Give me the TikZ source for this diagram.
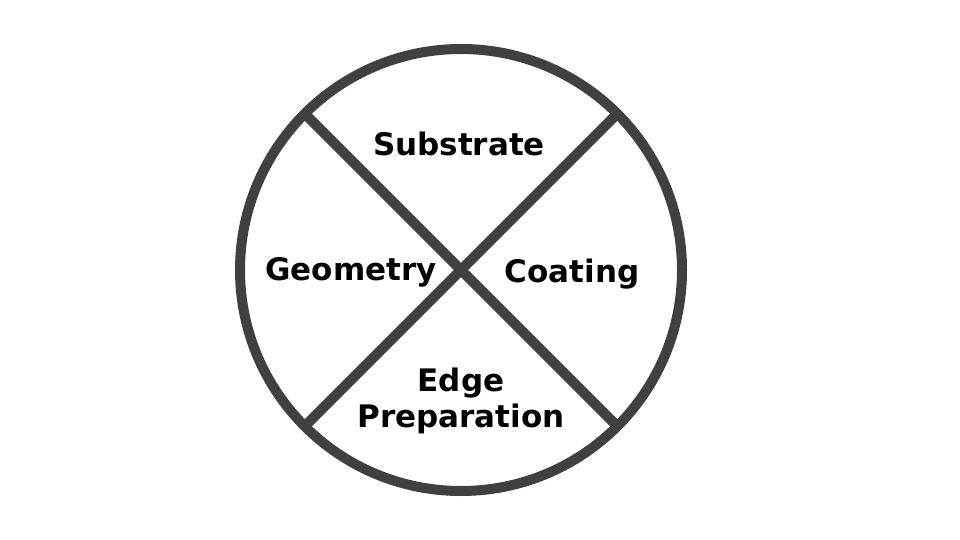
\documentclass[tikz,border=0pt]{standalone}
\usepackage{fontspec}
\setmainfont{DejaVu Sans}
\definecolor{ringgray}{HTML}{404040}
\tikzset{
  sector/.style={font=\fontsize{31}{36}\selectfont\bfseries, align=center, text=black}
}
\begin{document}
\begin{tikzpicture}[x=1pt,y=-1pt]
    \useasboundingbox (0,0) rectangle (960,540);
    \coordinate (O) at (461,270) ;

  \draw[line width=10pt, ringgray] (O) circle (221);
  \draw[line width=10pt, ringgray] (O) +(135:221) coordinate (NW) -- +(-45:221) coordinate (SE);
  \draw[line width=10pt, ringgray] (O) +(45:221) coordinate (NE) -- +(-135:221) coordinate (SW);

    \node[sector] (sub) at (459,144) {Substrate};
    \node[sector] (geo) at (351,272) {Geometry};
    \node[sector] (coat) at (572,274) {Coating};
    \node[sector] (edge) at (461,401) {Edge\\Preparation};

\end{tikzpicture}
\end{document}
